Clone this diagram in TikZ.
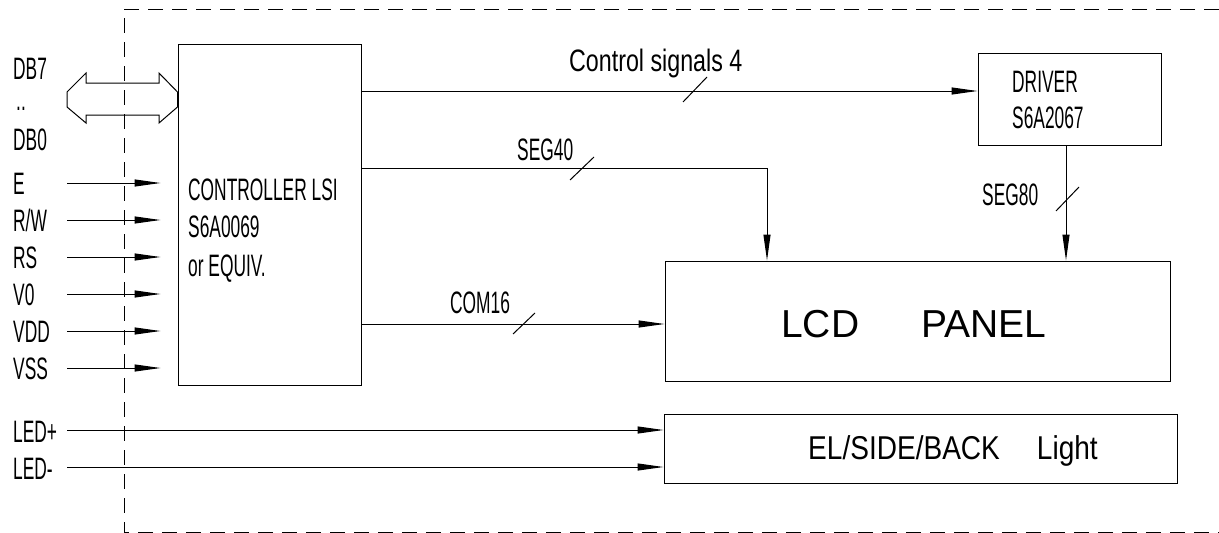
\documentclass[tikz,border=0pt]{standalone}
\usepackage{fontspec}
\setmainfont[FakeStretch=0.56]{Liberation Sans}
\newfontfamily\panelfont{Liberation Sans}
\newfontfamily\lightfont[FakeStretch=0.85]{Liberation Sans}
\newfontfamily\lcfont[FakeStretch=0.75]{Liberation Sans}
\usetikzlibrary{arrows.meta}
\begin{document}
\begin{tikzpicture}[x=1pt,y=-1pt,
  wire/.style={line width=1pt},
  arr/.style={wire,-{Triangle[length=26pt,width=7pt]}},
  blk/.style={draw,line width=1pt,inner sep=0pt,rectangle},
  lbl/.style={anchor=base west,inner sep=0pt,font=\fontsize{31}{36}\selectfont},
  frame/.style={line width=1pt,dash pattern=on 15pt off 9pt}]
\useasboundingbox (0,0) rectangle (1219,533);
% dashed module frame
\draw[frame] (1219,9) -- (124,9) -- (124,532) -- (1219,532);
% blocks
\node[blk,minimum width=183pt,minimum height=341pt] (ctrl) at (269.5,214.5) {};
\node[blk,minimum width=183pt,minimum height=92pt] (driver) at (1069.5,99) {};
\node[blk,minimum width=505pt,minimum height=120pt] (lcd) at (917.5,321) {};
\node[blk,minimum width=513pt,minimum height=69pt] (light) at (920.5,448.5) {};
% block texts
\node[lbl] (tc1) at (188,200) {CONTROLLER LSI};
\node[lbl] (tc2) at (188,237) {S6A0069};
\node[lbl] (tc3) at (188,276) {or EQUIV.};
\node[lbl] (td1) at (1012,92) {DRIVER};
\node[lbl] (td2) at (1012,128) {S6A2067};
\node[anchor=base west,inner sep=0pt,font=\panelfont\fontsize{39}{44}\selectfont] (tlcd) at (781,337) {LCD\hspace{62pt}PANEL};
\node[anchor=base west,inner sep=0pt,font=\lightfont\fontsize{33}{38}\selectfont] (tlight) at (808,459) {EL/SIDE/BACK\hspace{37pt}Light};
% data bus double arrow
\coordinate (b1) at (0,92);
\coordinate (b2) at (0,107);
\draw[wire] (67,92) -- (86,73) -- (86,83) -- (159,83) -- (159,73) -- (ctrl.west |- b1)
  -- (ctrl.west |- b2) -- (159,123) -- (159,115) -- (86,115) -- (86,123) -- (67,107) -- cycle;
\node[lbl] (lDB7) at (13,79) {DB7};
\node[lbl] (ldots) at (16,110) {..};
\node[lbl] (lDB0) at (13,150) {DB0};
% input signals
\foreach \nm/\txt/\yy in {E/E/183, RW/{R/W}/220, RS/RS/257, VO/V0/294, VDD/VDD/331, VSS/VSS/368}{
  \coordinate (in\nm) at (67,\yy);
  \node[lbl] (l\nm) at (13,\yy+11.5) {\txt};
  \draw[arr,shorten >=17pt] (in\nm) -- (ctrl.west |- in\nm);
}
% LED inputs
\coordinate (inLp) at (67,430);
\coordinate (inLm) at (67,467);
\node[lbl] (lLp) at (13,442) {LED+};
\node[lbl] (lLm) at (13,479) {LED-};
\draw[arr] (inLp) -- (light.west |- inLp);
\draw[arr] (inLm) -- (light.west |- inLm);
% controller outputs
\coordinate (yCS) at (0,91);
\coordinate (pSEG) at (767,168);
\coordinate (yCOM) at (0,324);
\coordinate (xS80) at (1066,0);
\draw[arr] (ctrl.east |- yCS) -- (driver.west |- yCS);
\draw[arr] (ctrl.east |- pSEG) -| (lcd.north -| pSEG);
\draw[arr] (ctrl.east |- yCOM) -- (lcd.west |- yCOM);
\draw[arr] (driver.south -| xS80) -- (lcd.north -| xS80);
% bus width slashes and labels
\draw[wire] (683,102) -- (707,77);
\node[anchor=base west,inner sep=0pt,font=\lcfont\fontsize{31}{36}\selectfont] (lcs) at (569,71) {Control signals 4};
\draw[wire] (570,180) -- (594,157);
\node[lbl] (lseg40) at (517,160) {SEG40};
\draw[wire] (513,334) -- (535,313);
\node[lbl] (lcom16) at (450,313) {COM16};
\draw[wire] (1056,211) -- (1079,187);
\node[lbl] (lseg80) at (982,205) {SEG80};
\end{tikzpicture}
\end{document}
